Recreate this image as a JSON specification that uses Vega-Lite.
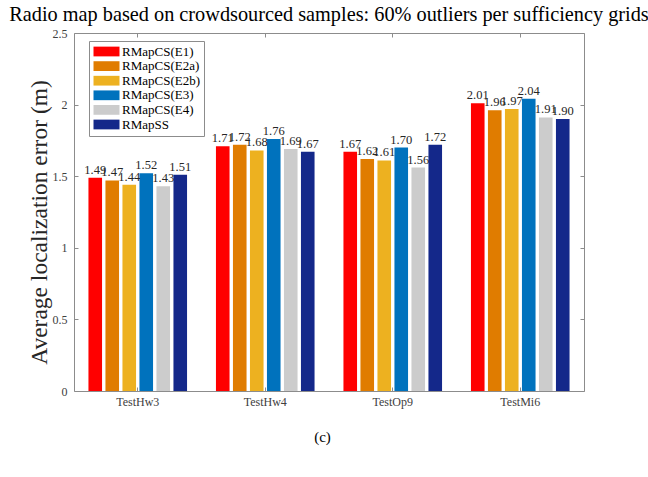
{
  "$schema": "https://vega.github.io/schema/vega-lite/v6.json",
  "autosize": {"type": "none"},
  "padding": {"left": 74, "top": 33, "right": 64, "bottom": 86},
  "width": 510,
  "height": 358,
  "background": "white",
  "title": {
    "text": "Radio map based on crowdsourced samples: 60% outliers per sufficiency grids",
    "font": "Liberation Serif",
    "fontSize": 20.3,
    "fontWeight": "normal",
    "color": "black",
    "anchor": "middle",
    "offset": 2
  },
  "config": {
    "view": {"stroke": "#8c8c8c", "strokeWidth": 1},
    "font": "Liberation Serif"
  },
  "data": {
    "values": [
      {"test": "TestHw3", "method": "RMapCS(E1)", "error": 1.49},
      {"test": "TestHw3", "method": "RMapCS(E2a)", "error": 1.47},
      {"test": "TestHw3", "method": "RMapCS(E2b)", "error": 1.44},
      {"test": "TestHw3", "method": "RMapCS(E3)", "error": 1.52},
      {"test": "TestHw3", "method": "RMapCS(E4)", "error": 1.43},
      {"test": "TestHw3", "method": "RMapSS", "error": 1.51},
      {"test": "TestHw4", "method": "RMapCS(E1)", "error": 1.71},
      {"test": "TestHw4", "method": "RMapCS(E2a)", "error": 1.72},
      {"test": "TestHw4", "method": "RMapCS(E2b)", "error": 1.68},
      {"test": "TestHw4", "method": "RMapCS(E3)", "error": 1.76},
      {"test": "TestHw4", "method": "RMapCS(E4)", "error": 1.69},
      {"test": "TestHw4", "method": "RMapSS", "error": 1.67},
      {"test": "TestOp9", "method": "RMapCS(E1)", "error": 1.67},
      {"test": "TestOp9", "method": "RMapCS(E2a)", "error": 1.62},
      {"test": "TestOp9", "method": "RMapCS(E2b)", "error": 1.61},
      {"test": "TestOp9", "method": "RMapCS(E3)", "error": 1.70},
      {"test": "TestOp9", "method": "RMapCS(E4)", "error": 1.56},
      {"test": "TestOp9", "method": "RMapSS", "error": 1.72},
      {"test": "TestMi6", "method": "RMapCS(E1)", "error": 2.01},
      {"test": "TestMi6", "method": "RMapCS(E2a)", "error": 1.96},
      {"test": "TestMi6", "method": "RMapCS(E2b)", "error": 1.97},
      {"test": "TestMi6", "method": "RMapCS(E3)", "error": 2.04},
      {"test": "TestMi6", "method": "RMapCS(E4)", "error": 1.91},
      {"test": "TestMi6", "method": "RMapSS", "error": 1.90}
    ]
  },
  "encoding": {
    "x": {
      "field": "test",
      "type": "nominal",
      "sort": ["TestHw3", "TestHw4", "TestOp9", "TestMi6"],
      "scale": {"paddingInner": 0.2, "paddingOuter": 0.1}
    },
    "xOffset": {
      "field": "method",
      "type": "nominal",
      "sort": ["RMapCS(E1)", "RMapCS(E2a)", "RMapCS(E2b)", "RMapCS(E3)", "RMapCS(E4)", "RMapSS"],
      "scale": {"paddingInner": 0.2, "paddingOuter": 0.1}
    },
    "y": {
      "field": "error",
      "type": "quantitative",
      "scale": {"domain": [0, 2.5], "nice": false, "zero": true}
    }
  },
  "layer": [
    {
      "mark": {"type": "bar"},
      "encoding": {
        "x": {
          "field": "test",
          "type": "nominal",
          "sort": ["TestHw3", "TestHw4", "TestOp9", "TestMi6"],
          "axis": {
            "orient": "bottom",
            "title": "(c)",
            "titleFont": "Liberation Serif",
            "titleFontSize": 15,
            "titleFontWeight": "normal",
            "titleColor": "black",
            "titlePadding": 22,
            "titleX": 248,
            "labelAngle": 0,
            "labelFont": "Liberation Serif",
            "labelFontSize": 12,
            "labelColor": "#404040",
            "labelPadding": 9,
            "domain": false,
            "ticks": true,
            "tickSize": -4,
            "tickColor": "#8c8c8c",
            "bandPosition": 0.5
          }
        },
        "y": {
          "field": "error",
          "type": "quantitative",
          "axis": {
            "orient": "left",
            "title": "Average localization error (m)",
            "titleFont": "Liberation Serif",
            "titleFontSize": 23.5,
            "titleFontWeight": "normal",
            "titleColor": "#262626",
            "titlePadding": 1,
            "titleY": 189,
            "values": [0, 0.5, 1, 1.5, 2, 2.5],
            "format": "~g",
            "labelFont": "Liberation Serif",
            "labelFontSize": 12,
            "labelColor": "#404040",
            "labelPadding": 11,
            "domain": false,
            "ticks": true,
            "tickSize": -4,
            "tickColor": "#8c8c8c",
            "grid": false
          }
        },
        "color": {
          "field": "method",
          "type": "nominal",
          "sort": ["RMapCS(E1)", "RMapCS(E2a)", "RMapCS(E2b)", "RMapCS(E3)", "RMapCS(E4)", "RMapSS"],
          "scale": {
            "domain": ["RMapCS(E1)", "RMapCS(E2a)", "RMapCS(E2b)", "RMapCS(E3)", "RMapCS(E4)", "RMapSS"],
            "range": ["#ff0000", "#e07c00", "#edb120", "#0072bd", "#cccccc", "#14288a"]
          },
          "legend": {
            "title": null,
            "orient": "none",
            "legendX": 15,
            "legendY": 8,
            "direction": "vertical",
            "symbolType": "M-2,-0.75H2V0.75H-2Z",
            "symbolSize": 169,
            "symbolOffset": 7,
            "symbolStrokeWidth": 0,
            "labelFont": "Liberation Serif",
            "labelFontSize": 13,
            "labelColor": "black",
            "labelOffset": 9,
            "rowPadding": 0.6,
            "padding": 4,
            "strokeColor": "#8c8c8c",
            "fillColor": "white"
          }
        }
      }
    },
    {
      "mark": {
        "type": "text",
        "baseline": "bottom",
        "dy": -1,
        "font": "Liberation Serif",
        "fontSize": 12.5,
        "color": "#262626"
      },
      "encoding": {
        "x": {"field": "test", "type": "nominal", "sort": ["TestHw3", "TestHw4", "TestOp9", "TestMi6"], "axis": null},
        "y": {"field": "error", "type": "quantitative", "axis": null},
        "text": {"field": "error", "type": "quantitative", "format": ".2f"}
      }
    },
    {
      "mark": {"type": "bar", "opacity": 0},
      "encoding": {
        "x": {
          "field": "test",
          "type": "nominal",
          "sort": ["TestHw3", "TestHw4", "TestOp9", "TestMi6"],
          "axis": {"orient": "top", "title": null, "labels": false, "domain": false, "tickSize": -4, "tickColor": "#8c8c8c", "bandPosition": 0.5}
        },
        "y": {
          "field": "error",
          "type": "quantitative",
          "axis": {"orient": "right", "title": null, "labels": false, "domain": false, "grid": false, "values": [0, 0.5, 1, 1.5, 2, 2.5], "tickSize": -4, "tickColor": "#8c8c8c"}
        }
      }
    }
  ],
  "resolve": {"axis": {"x": "independent", "y": "independent"}}
}
